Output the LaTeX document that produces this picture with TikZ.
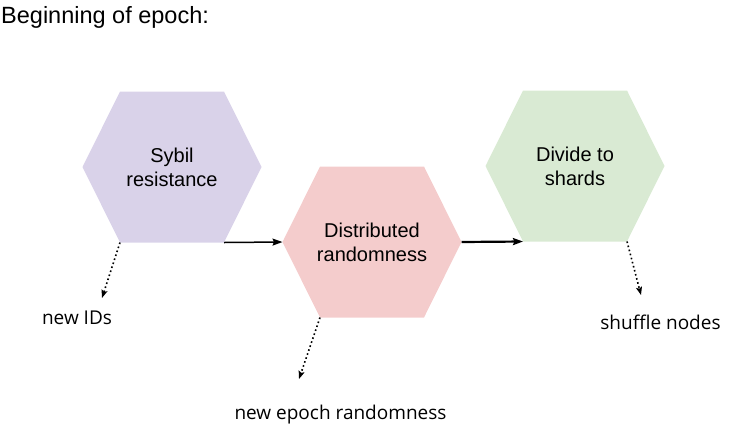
\documentclass[tikz,border=0pt]{standalone}
\usepackage{fontspec}
\setmainfont{Liberation Sans}
\newfontfamily\notefont{Open Sans}
\usetikzlibrary{arrows.meta}
\begin{document}
\begin{tikzpicture}[x=1pt,y=-1pt]
\pgfmathsetmacro\hw{89.5};
\pgfmathsetmacro\hh{75.5};
\pgfmathsetmacro\tw{52};
\useasboundingbox (0,0) rectangle (743,429);
\definecolor{sybilcolor}{HTML}{D9D2E9}
\definecolor{randcolor}{HTML}{F4CCCC}
\definecolor{shardcolor}{HTML}{D9EAD3}
\node[anchor = base west, inner sep = 0, font = \fontsize{23.5}{28}\selectfont] (title) at (1,23) {Beginning of epoch:};
\foreach \name/\cx/\cy/\col in {sybil/172/167/sybilcolor, rand/372/242/randcolor, shard/575/166/shardcolor} {
\fill [\col] (\cx-\hw,\cy) -- (\cx-\tw,\cy-\hh) -- (\cx+\tw,\cy-\hh) -- (\cx+\hw,\cy) -- (\cx+\tw,\cy+\hh) -- (\cx-\tw,\cy+\hh) -- cycle;
\coordinate (\name-l) at (\cx-\hw,\cy);
\coordinate (\name-r) at (\cx+\hw,\cy);
\coordinate (\name-bl) at (\cx-\tw,\cy+\hh);
\coordinate (\name-br) at (\cx+\tw,\cy+\hh);
}
\node[align = center, font = \fontsize{20}{24}\selectfont] (sybil) at (172,167) {Sybil\\resistance};
\node[align = center, font = \fontsize{20}{24}\selectfont] (rand) at (372,242) {Distributed\\randomness};
\node[align = center, font = \fontsize{20}{24}\selectfont] (shard) at (575,166) {Divide to\\shards};
\coordinate (idtip) at (102,298);
\coordinate (randtip) at (299,379);
\coordinate (shufftip) at (641,295);
\node[anchor = base, font = \notefont\fontsize{19}{23}\selectfont] (ids) at (77,324) {new IDs};
\node[anchor = base, font = \notefont\fontsize{19}{23}\selectfont] (epochrand) at (340.5,419) {new epoch randomness};
\node[anchor = base, font = \notefont\fontsize{19}{23}\selectfont] (shuffle) at (660.5,329) {shuffle nodes};
\draw [line width = 1.5pt, -{Stealth[length = 10pt, width = 7pt, inset = 1.5pt]}] (sybil-br) -- (rand-l);
\draw [line width = 2.2pt, -{Stealth[length = 10pt, width = 7pt, inset = 1.5pt]}] (rand-r) -- (shard-bl);
\draw [line width = 1.6pt, dash pattern = on 1.6pt off 2.6pt, -{Stealth[length = 8pt, width = 6pt, inset = 1.5pt]}] (sybil-bl) -- (idtip);
\draw [line width = 1.6pt, dash pattern = on 1.6pt off 2.6pt, -{Stealth[length = 8pt, width = 6pt, inset = 1.5pt]}] (rand-bl) -- (randtip);
\draw [line width = 1.6pt, dash pattern = on 1.6pt off 2.6pt, -{Stealth[length = 8pt, width = 6pt, inset = 1.5pt]}] (shard-br) -- (shufftip);
\end{tikzpicture}
\end{document}
